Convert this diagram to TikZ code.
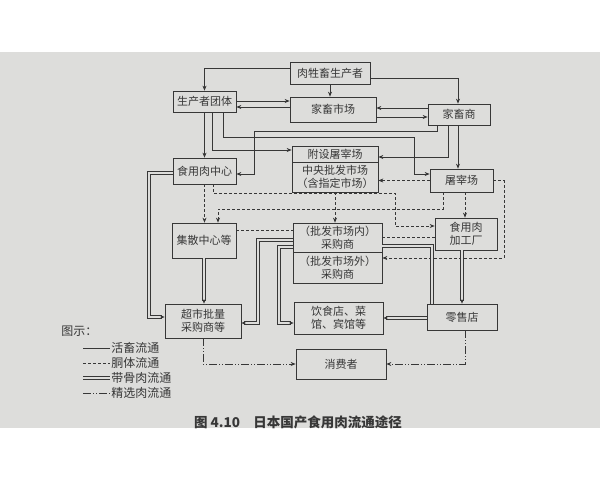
\documentclass[tikz,border=0pt]{standalone}
\usepackage{fontspec}
\setmainfont{Noto Sans CJK SC}
\usetikzlibrary{arrows.meta}
\definecolor{page}{RGB}{221,221,219}
\definecolor{ink}{RGB}{55,55,55}

\begin{document}
\begin{tikzpicture}[
                x=1pt,y=-1pt,
                line width=.7pt,
                >={Stealth[length=5pt,width=4pt]},
                box/.style={draw=ink,text=ink,align=center,inner sep=1pt,font=\fontsize{11}{13}\selectfont},
                live/.style={draw=ink},
                carcass/.style={draw=ink,dash pattern=on 3pt off 2pt},
                bone/.style={draw=ink,double=page,double distance=2pt,line width=.6pt},
                picked/.style={draw=ink,dash pattern=on 8pt off 2pt on 1pt off 2pt on 1pt off 2pt},
                key/.style={text=ink,anchor=west,inner sep=1pt,font=\fontsize{12}{14}\selectfont}] %

                    % page
                    \fill[white] (0,0) rectangle (600,480);
                    \fill[page] (0,52) rectangle (600,428);
                    \useasboundingbox (0,0) rectangle (600,480);

                    % 1
                    \node[box,minimum width=80pt,minimum height=22pt] (Producer) at (330,73) {肉牲畜生产者};
                    \node[box,minimum width=63pt,minimum height=21pt] (ProducerGroup) at (204.5,101.5) {生产者团体};
                    \node[box,minimum width=86pt,minimum height=25pt] (LiveMarket) at (333,109.5) {家畜市场};
                    \node[box,minimum width=62pt,minimum height=21pt] (Dealer) at (459,114.5) {家畜商};

                    % 2
                    \node[box,minimum width=86pt,minimum height=16pt] (Annex) at (335,154) {附设屠宰场};
                    \node[box,minimum width=86pt,minimum height=30pt] (Central) at (335,177) {中央批发市场\\（含指定市场）};
                    \node[box,minimum width=63pt,minimum height=23pt] (Slaughter) at (461.5,180.5) {屠宰场};
                    \node[box,minimum width=63pt,minimum height=26pt] (MeatCenter) at (204.5,171) {食用肉中心};

                    % 3
                    \node[box,minimum width=64pt,minimum height=35pt] (Collect) at (204,240.5) {集散中心等};
                    \node[box,minimum width=89pt,minimum height=29pt] (BuyerIn) at (337.5,237.5) {（批发市场内）\\采购商};
                    \node[box,minimum width=89pt,minimum height=31pt] (BuyerOut) at (337.5,267.5) {（批发市场外）\\采购商};
                    \node[box,minimum width=62pt,minimum height=32pt] (Processor) at (466,234) {食用肉\\加工厂};

                    % 4
                    \node[box,minimum width=76pt,minimum height=34pt] (Supermarket) at (203,321) {超市批量\\采购商等};
                    \node[box,minimum width=89pt,minimum height=32pt] (Restaurant) at (338.5,318) {饮食店、菜\\馆、宾馆等};
                    \node[box,minimum width=70pt,minimum height=26pt] (Retail) at (462,317) {零售店};
                    \node[box,minimum width=90pt,minimum height=30pt] (Consumer) at (341,364) {消费者};


                    % livestock
                    \draw[live,->] (Producer.west |- 0,68) -| (ProducerGroup.north);
                    \draw[live,->] (Producer.south) -- (Producer.south |- LiveMarket.north);
                    \draw[live,->] (Producer.east |- 0,78) -| (Dealer.north -| 458,0);
                    \draw[live,->] (ProducerGroup.east |- 0,101) -- (LiveMarket.west |- 0,101);
                    \draw[live,->] (LiveMarket.west |- 0,107) -- (ProducerGroup.east |- 0,107);
                    \draw[live,->] (Dealer.west |- 0,108) -- (LiveMarket.east |- 0,108);
                    \draw[live,->] (LiveMarket.east |- 0,117) -- (Dealer.west |- 0,117);
                    \draw[live,->] (ProducerGroup.south) -- (MeatCenter.north);
                    \draw[live,->] (ProducerGroup.south -| 212,0) |- (Annex.west |- 0,150);
                    \draw[live,->] (ProducerGroup.south -| 223,0) |- (414,137) |- (Slaughter.west |- 0,174);
                    \draw[live,->] (Dealer.south -| 437,0) |- (254,131) |- (MeatCenter.east |- 0,174);
                    \draw[live,->] (Dealer.south -| 448,0) |- (Annex.east |- 0,157);
                    \draw[live,->] (Dealer.south -| 458,0) -- (Slaughter.north -| 458,0);

                    % carcass
                    \draw[carcass,->] (Slaughter.west) -- (Central.east |- Slaughter.west);
                    \draw[carcass,->] (Central.south) -- (Central.south |- BuyerIn.north);
                    \draw[carcass,->] (MeatCenter.south) -- (MeatCenter.south |- Collect.north);
                    \draw[carcass,->] (MeatCenter.south -| 213,0) |- (395,193) |- (Processor.west |- 0,226);
                    \draw[carcass,->] (Slaughter.south -| 443,0) |- (218,209) -- (Collect.north -| 218,0);
                    \draw[carcass,->] (Slaughter.south -| 465,0) -- (Processor.north -| 465,0);
                    \draw[carcass,->] (Slaughter.east) -| (504,258) -- (BuyerOut.east |- 0,258);
                    \draw[carcass] (Processor.west |- 0,237) -- (BuyerIn.east |- 0,237);
                    \draw[carcass] (Collect.east |- 0,230) -- (BuyerIn.west |- 0,230);

                    % bone-in
                    \draw[bone,->] (Collect.south) -- (Collect.south |- Supermarket.north);
                    \draw[bone,->] (MeatCenter.west |- 0,173) -| (149,317) -- (Supermarket.west |- 0,317);
                    \draw[bone,->] (BuyerIn.west |- 0,240) -| (258,323) -- (Supermarket.east |- 0,323);
                    \draw[bone,->] (BuyerIn.west |- 0,247) -| (279,323) -- (Restaurant.west |- 0,323);
                    \draw[bone] (BuyerIn.east |- 0,246) -| (Retail.north -| 432,0);
                    \draw[bone,->] (Processor.south -| 462,0) -- (Retail.north -| 462,0);
                    \draw[bone,->] (Retail.west |- 0,318) -- (Restaurant.east |- 0,318);

                    % selected
                    \draw[picked,->] (Supermarket.south) |- (Consumer.west);
                    \draw[picked,->] (Retail.south -| 465,0) |- (Consumer.east);


                    % legend
                    \node[key] (LegendTitle) at (60,331) {图示：};
                    \node[key] (LegendLive) at (110,348) {活畜流通};
                    \node[key] (LegendCarcass) at (110,363) {胴体流通};
                    \node[key] (LegendBone) at (110,378) {带骨肉流通};
                    \node[key] (LegendPicked) at (110,393) {精选肉流通};
                    \coordinate (KeyLive) at (83,348);
                    \coordinate (KeyCarcass) at (83,363);
                    \coordinate (KeyBone) at (83,378);
                    \coordinate (KeyPicked) at (83,393);
                    \draw[live] (KeyLive) -- (LegendLive.west);
                    \draw[carcass] (KeyCarcass) -- (LegendCarcass.west);
                    \draw[bone] (KeyBone) -- (LegendBone.west);
                    \draw[picked] (KeyPicked) -- (LegendPicked.west);

                    \node[text=ink,font=\fontsize{13.5}{15}\selectfont\bfseries] (Caption) at (298,422) {图 4.10\quad 日本国产食用肉流通途径};

                    \end{tikzpicture}
\end{document}
